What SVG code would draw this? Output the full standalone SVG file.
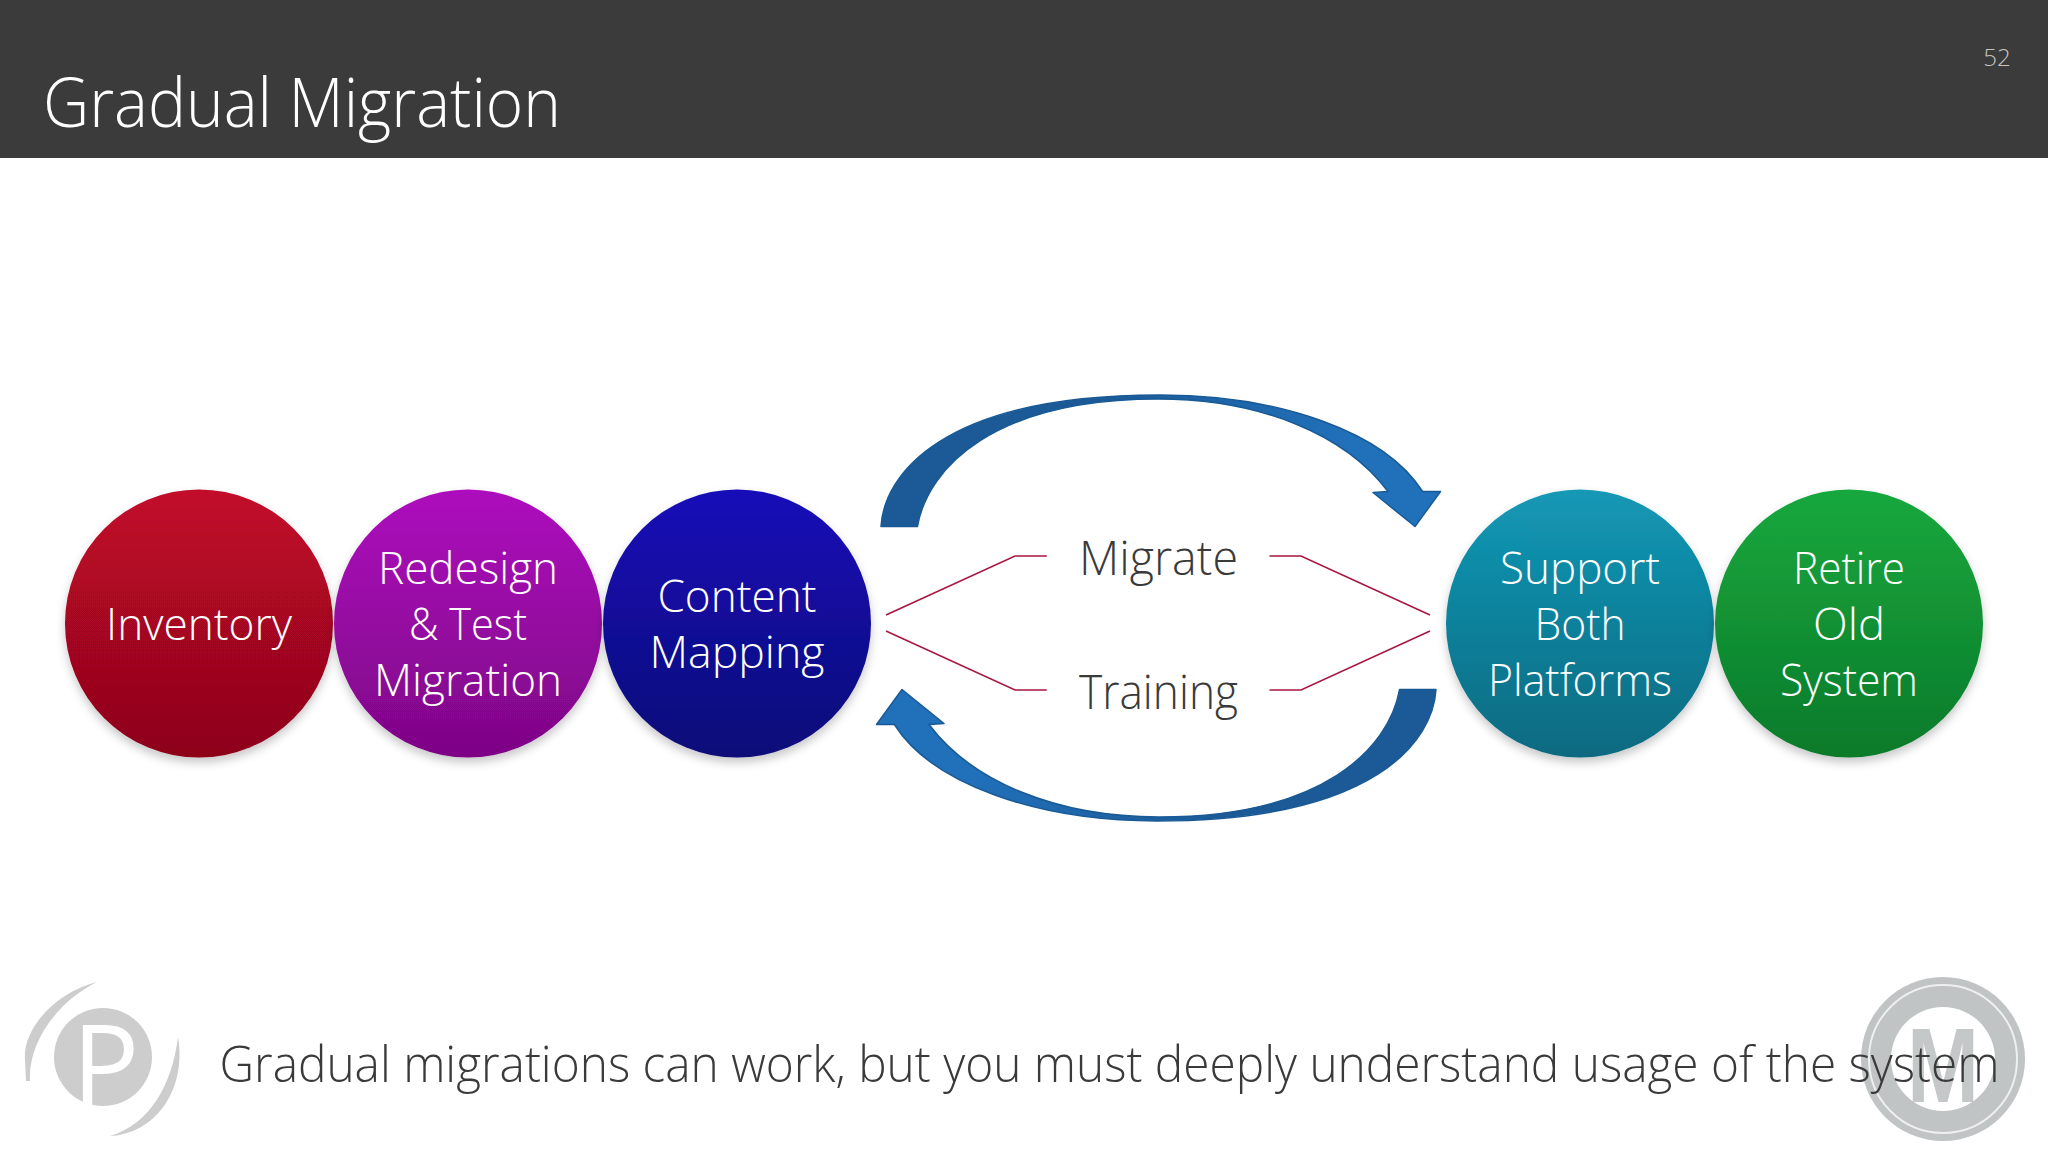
<svg xmlns="http://www.w3.org/2000/svg" width="2048" height="1152" viewBox="0 0 2048 1152">
<defs>
<style>
text{font-family:"Open Sans","Noto Sans","Liberation Sans",sans-serif;font-weight:300}
.lab{font-size:45px;fill:#fff;text-anchor:middle}
.mid{font-size:47px;fill:#3a3a3a;text-anchor:middle}
.conn{fill:none;stroke:#a8173f;stroke-width:1.6}
.arrow{fill:url(#arrowGrad);stroke:#195a96;stroke-width:1.5;stroke-linejoin:round}
</style>
<linearGradient id="gRed" x1="0" y1="0" x2="0" y2="1"><stop offset="0" stop-color="#c2082b"/><stop offset="1" stop-color="#8c0519"/></linearGradient>
<linearGradient id="gPur" x1="0" y1="0" x2="0" y2="1"><stop offset="0" stop-color="#ad0dbd"/><stop offset="1" stop-color="#7d0585"/></linearGradient>
<linearGradient id="gBlu" x1="0" y1="0" x2="0" y2="1"><stop offset="0" stop-color="#160cb8"/><stop offset="1" stop-color="#0d0878"/></linearGradient>
<linearGradient id="gTea" x1="0" y1="0" x2="0" y2="1"><stop offset="0" stop-color="#1398b6"/><stop offset="1" stop-color="#0a6a80"/></linearGradient>
<linearGradient id="gGre" x1="0" y1="0" x2="0" y2="1"><stop offset="0" stop-color="#15a83d"/><stop offset="1" stop-color="#0e7a2b"/></linearGradient>
<linearGradient id="arrowGrad" gradientUnits="userSpaceOnUse" x1="1100" y1="0" x2="1350" y2="0"><stop offset="0" stop-color="#1b5a96"/><stop offset="1" stop-color="#2170ba"/></linearGradient>
<filter id="sh" x="-10%" y="-10%" width="120%" height="120%"><feDropShadow dx="0" dy="5" stdDeviation="5" flood-color="#000" flood-opacity=".22"/></filter>
<path id="arc" d="M881 526.5C884 476 940 395 1160 395C1280 395 1385 432 1422.6 491.5L1440.5 491.5L1415 526.5L1373 492.5L1388 491.5C1345 434 1260 399 1158 399C995 399 928 467 917.4 526.5Z"/>
</defs>
<rect width="2048" height="1152" fill="#fff"/>
<g id="header"><rect width="2048" height="158" fill="#3b3b3b"/>
<text x="43" y="127" font-size="69" fill="#fff" textLength="518" lengthAdjust="spacingAndGlyphs">Gradual Migration</text>
<text x="1997" y="66" font-size="24" fill="#c4c4c4" text-anchor="middle">52</text></g>
<g id="connectors">
<g id="arrows"><use href="#arc" class="arrow"/><use href="#arc" class="arrow" transform="rotate(180 1158.5 608)"/></g>
<path class="conn" d="M886 615L1015 556L1046.8 556"/>
<path class="conn" d="M1430 615L1301 556L1269.5 556"/>
<path class="conn" d="M886 631L1015 690L1046.8 690"/>
<path class="conn" d="M1430 631L1301 690L1269.5 690"/>
</g>
<g id="n1"><circle cx="199" cy="623.5" r="134" fill="url(#gRed)" filter="url(#sh)"/><text class="lab" x="199" y="640" textLength="186" lengthAdjust="spacingAndGlyphs">Inventory</text></g>
<g id="n2"><circle cx="468" cy="623.5" r="134" fill="url(#gPur)" filter="url(#sh)"/><text class="lab" x="468" y="584" textLength="180" lengthAdjust="spacingAndGlyphs">Redesign</text><text class="lab" x="468" y="640" textLength="118" lengthAdjust="spacingAndGlyphs">&amp; Test</text><text class="lab" x="468" y="696" textLength="188" lengthAdjust="spacingAndGlyphs">Migration</text></g>
<g id="n3"><circle cx="737" cy="623.5" r="134" fill="url(#gBlu)" filter="url(#sh)"/><text class="lab" x="737" y="612" textLength="159" lengthAdjust="spacingAndGlyphs">Content</text><text class="lab" x="737" y="668" textLength="175" lengthAdjust="spacingAndGlyphs">Mapping</text></g>
<g id="n4"><text class="mid" x="1158.5" y="574.5" textLength="159" lengthAdjust="spacingAndGlyphs">Migrate</text></g>
<g id="n5"><text class="mid" x="1158.5" y="708.5" textLength="159" lengthAdjust="spacingAndGlyphs">Training</text></g>
<g id="n6"><circle cx="1580" cy="623.5" r="134" fill="url(#gTea)" filter="url(#sh)"/><text class="lab" x="1580" y="584" textLength="160" lengthAdjust="spacingAndGlyphs">Support</text><text class="lab" x="1580" y="640" textLength="91" lengthAdjust="spacingAndGlyphs">Both</text><text class="lab" x="1580" y="696" textLength="184" lengthAdjust="spacingAndGlyphs">Platforms</text></g>
<g id="n7"><circle cx="1849" cy="623.5" r="134" fill="url(#gGre)" filter="url(#sh)"/><text class="lab" x="1849" y="584" textLength="112" lengthAdjust="spacingAndGlyphs">Retire</text><text class="lab" x="1849" y="640" textLength="72" lengthAdjust="spacingAndGlyphs">Old</text><text class="lab" x="1849" y="696" textLength="138" lengthAdjust="spacingAndGlyphs">System</text></g>
<g id="logoP">
<path d="M97 982C55 992 22 1030 25 1060L26 1081L30 1081C28 1040 60 1000 97 982Z" fill="#cdcdcd"/>
<path d="M178 1037C187 1090 155 1134 110 1136C150 1124 172 1085 178 1037Z" fill="#cdcdcd"/>
<circle cx="103" cy="1057" r="49" fill="#cdcdcd"/>
<text x="72" y="1105" font-size="112" style="font-weight:400" fill="#fff">P</text>
</g>
<g id="logoM">
<circle cx="1943" cy="1059" r="82" fill="#c0c4c4"/>
<circle cx="1943" cy="1059" r="74" fill="none" stroke="#eef0f0" stroke-width="2"/>
<circle cx="1943" cy="1059" r="52" fill="#fff"/>
<text x="1943" y="1102" font-size="106" text-anchor="middle" textLength="72" lengthAdjust="spacingAndGlyphs" style="font-family:'Liberation Sans',sans-serif;font-weight:700" fill="#c4c8c8">M</text>
</g>
<text id="footer" x="219.5" y="1082" font-size="50" fill="#3a3a3a" textLength="1780" lengthAdjust="spacingAndGlyphs">Gradual migrations can work, but you must deeply understand usage of the system</text>
</svg>
